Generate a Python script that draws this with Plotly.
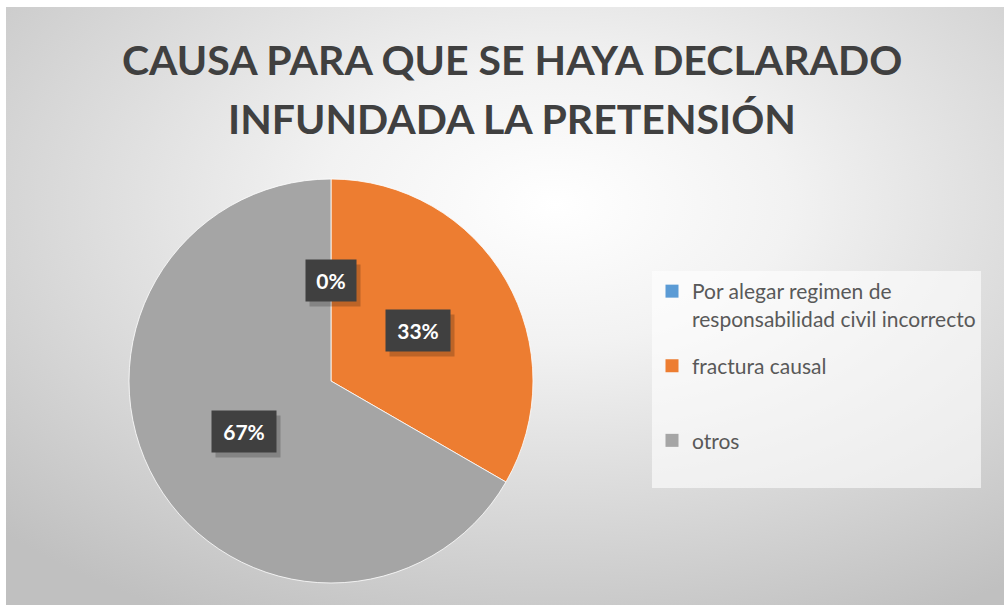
import base64
import math
import plotly.graph_objects as go

# ---- data ----
categories = ["Por alegar regimen de responsabilidad civil incorrecto", "fractura causal", "otros"]
legend_names = ["Por alegar regimen de<br>responsabilidad civil incorrecto", "fractura causal<br> ", "otros<br> "]
values = [0, 1, 2]
colors = ["#5B9BD5", "#ED7D31", "#A5A5A5"]
title_lines = ["CAUSA PARA QUE SE HAYA DECLARADO", "INFUNDADA LA PRETENSIÓN"]

W, H = 1004, 607
FONT = "Lato, Open Sans, sans-serif"

# pie placement (pixels -> paper)
cx_px, cy_px, r_px = 331, 381, 202
dom_x = [(cx_px - r_px) / W, (cx_px + r_px) / W]
dom_y = [1 - (cy_px + r_px) / H, 1 - (cy_px - r_px) / H]

# background gradient as svg image
bw, bh = 998, 598
svg = (
    f'<svg xmlns="http://www.w3.org/2000/svg" width="{bw}" height="{bh}">'
    '<defs><radialGradient id="g" cx="0.55" cy="0.33" r="0.78" fx="0.55" fy="0.33">'
    '<stop offset="0" stop-color="#ffffff"/>'
    '<stop offset="0.3" stop-color="#f2f2f2"/>'
    '<stop offset="1" stop-color="#c0c0c0"/>'
    '</radialGradient></defs>'
    f'<rect x="0" y="0" width="{bw}" height="{bh}" fill="url(#g)"/></svg>'
)
src = "data:image/svg+xml;base64," + base64.b64encode(svg.encode()).decode()

fig = go.Figure()
fig.add_trace(go.Pie(
    labels=categories,
    values=values,
    sort=False,
    direction="clockwise",
    rotation=0,
    marker=dict(colors=colors, line=dict(color="rgba(255,255,255,0.8)", width=1)),
    textinfo="none",
    hoverinfo="label+percent",
    domain=dict(x=dom_x, y=dom_y),
    showlegend=False,
))

# legend entries (one group each so that the gap between entries can be set)
for name, col in zip(legend_names, colors):
    fig.add_trace(go.Scatter(
        x=[None], y=[None], mode="markers", name=name, legendgroup=name,
        marker=dict(symbol="square", size=13, color=col),
        hoverinfo="skip",
    ))

# data labels (dark boxes) placed at mid-angle of each slice
total = sum(values)
cum = 0
annotations = []
for v in values:
    mid = (cum + v / 2) / total * 2 * math.pi
    cum += v
    d = 0.5 * r_px
    lx = cx_px + d * math.sin(mid)
    ly = cy_px - d * math.cos(mid)
    pct = f"{round(100 * v / total)}%"
    box_w = 14 * len(pct) + 6
    common = dict(xref="paper", yref="paper", showarrow=False,
                  xanchor="center", yanchor="middle", borderpad=8,
                  width=box_w, height=25)
    # soft shadow box (no text)
    annotations.append(dict(
        x=(lx + 4) / W, y=1 - (ly + 5) / H, text="&nbsp;",
        font=dict(family=FONT, size=21, color="rgba(0,0,0,0)"),
        bgcolor="rgba(0,0,0,0.2)", **common,
    ))
    annotations.append(dict(
        x=lx / W, y=1 - ly / H, text=f"<b>{pct}</b>",
        font=dict(family=FONT, size=21, color="#ffffff"),
        bgcolor="#404040", **common,
    ))

# title as two lines
for i, line in enumerate(title_lines):
    annotations.append(dict(
        x=512 / W, y=1 - (59 + 60 * i) / H, xref="paper", yref="paper",
        xanchor="center", yanchor="middle", showarrow=False,
        text=f"<b>{line}</b>",
        font=dict(family=FONT, size=41, color="#404040"),
    ))

fig.update_layout(
    width=W, height=H,
    margin=dict(l=0, r=0, t=0, b=0),
    paper_bgcolor="#ffffff",
    plot_bgcolor="rgba(0,0,0,0)",
    xaxis=dict(visible=False),
    yaxis=dict(visible=False),
    images=[dict(source=src, xref="paper", yref="paper", x=6 / W, y=1 - 7 / H,
                 sizex=bw / W, sizey=bh / H, sizing="stretch", xanchor="left",
                 yanchor="top", layer="below")],
    legend=dict(x=652 / W, xanchor="left", y=1 - 271 / H, yanchor="top",
                bgcolor="rgba(255,255,255,0.6)", borderwidth=0, valign="top",
                font=dict(family=FONT, size=21, color="#595959"),
                itemclick=False, itemdoubleclick=False, tracegroupgap=17,
                entrywidth=370, entrywidthmode="pixels"),
    annotations=annotations,
)

fig.write_html("out.html")
